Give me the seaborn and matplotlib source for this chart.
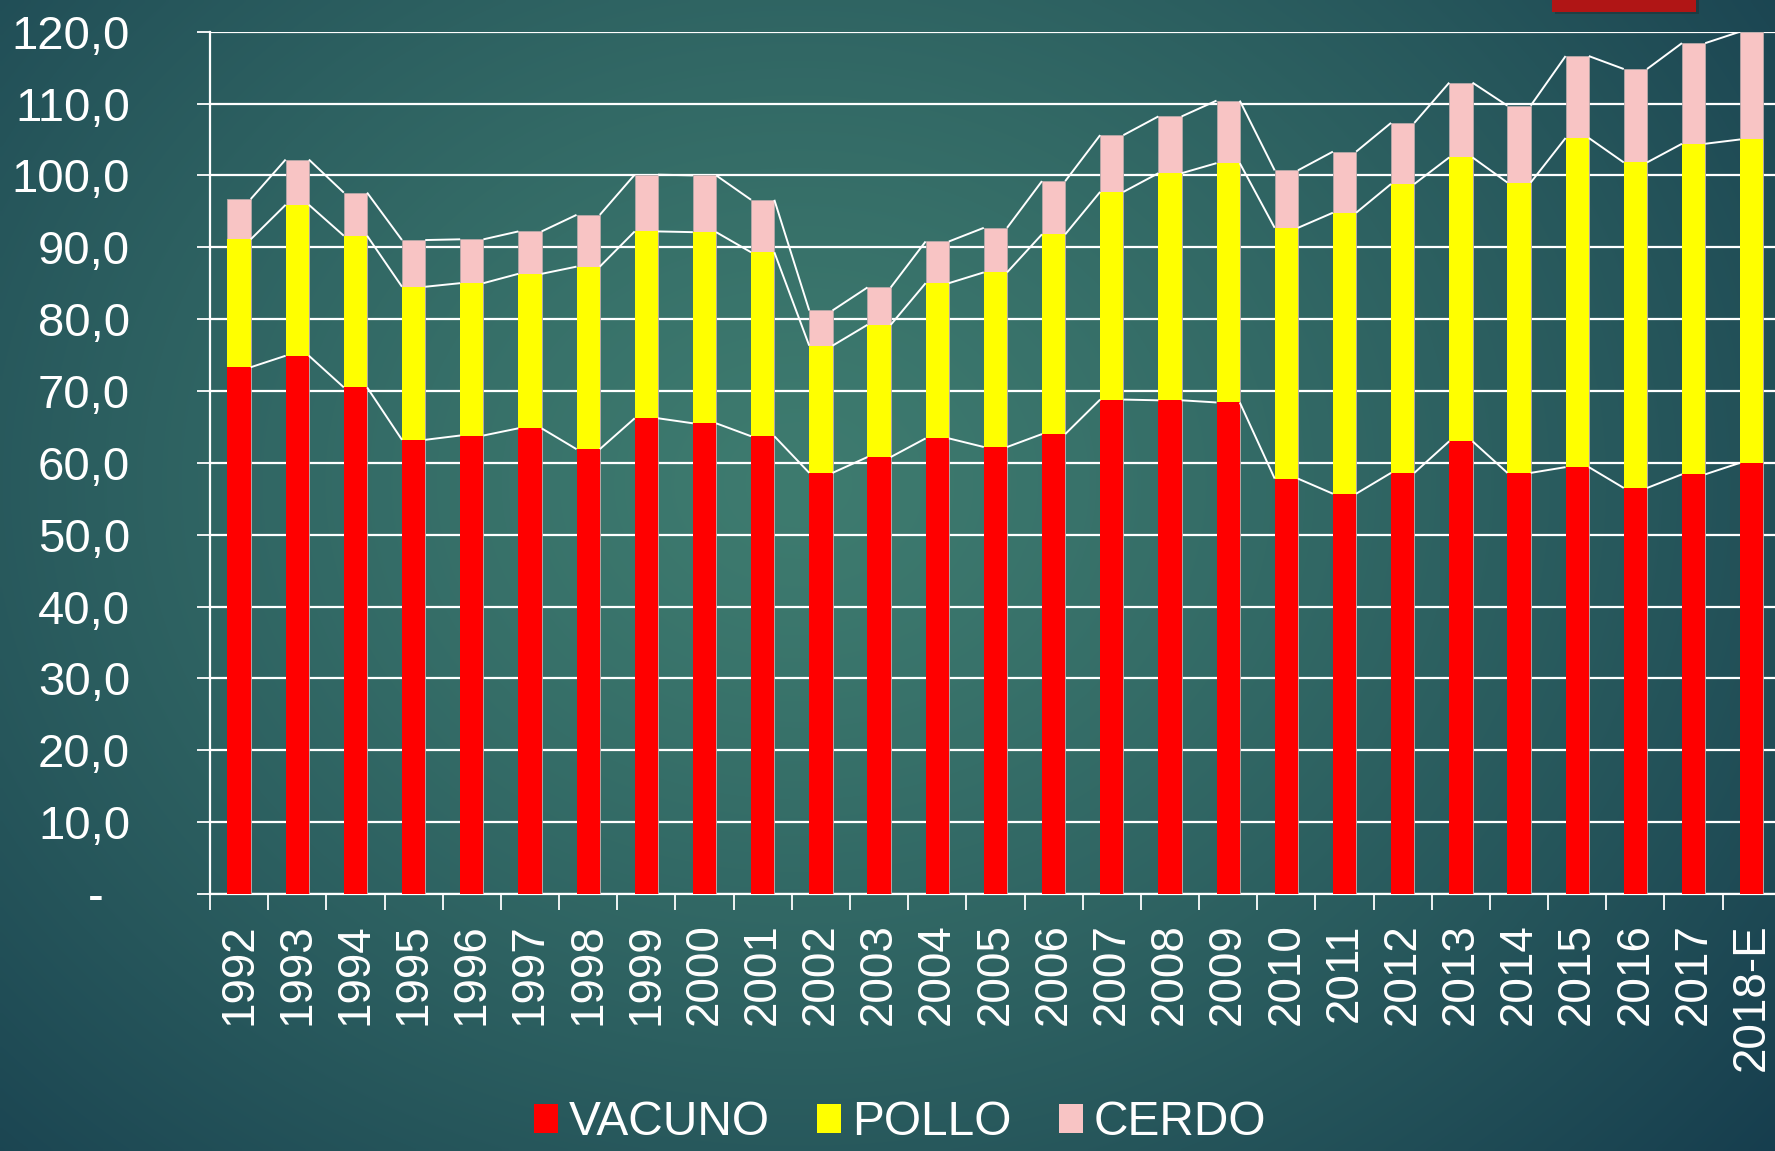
"""Consumo de carne por tipo (VACUNO / POLLO / CERDO), 1992-2018E."""

import matplotlib
matplotlib.use("Agg")
import matplotlib.pyplot as plt
import matplotlib.ticker as mticker
from matplotlib.patches import Patch, Rectangle
import numpy as np
import seaborn as sns

# ── Data (kg/hab/año) ─────────────────────────────────────────────────────────
years = ["1992", "1993", "1994", "1995", "1996", "1997", "1998", "1999", "2000",
         "2001", "2002", "2003", "2004", "2005", "2006", "2007", "2008", "2009",
         "2010", "2011", "2012", "2013", "2014", "2015", "2016", "2017", "2018-E"]
vacuno = [73.3, 74.9, 70.5, 63.2, 63.8, 64.8, 61.9, 66.2, 65.5,
          63.7, 58.6, 60.8, 63.4, 62.2, 64.0, 68.8, 68.7, 68.4,
          57.8, 55.7, 58.6, 63.0, 58.6, 59.4, 56.5, 58.4, 60.0]
pollo = [17.8, 21.0, 21.1, 21.3, 21.2, 21.5, 25.4, 26.0, 26.6,
         25.6, 17.7, 18.4, 21.6, 24.3, 27.8, 28.9, 31.6, 33.3,
         34.9, 39.1, 40.2, 39.5, 40.4, 45.8, 45.3, 46.0, 45.0]
cerdo = [5.6, 6.3, 6.0, 6.5, 6.1, 5.9, 7.2, 7.9, 7.9,
         7.3, 4.9, 5.2, 5.8, 6.2, 7.4, 7.9, 7.9, 8.7,
         8.0, 8.5, 8.5, 10.4, 10.7, 11.4, 13.0, 14.0, 15.0]
series_names = ["VACUNO", "POLLO", "CERDO"]
series_colors = ["#ff0000", "#ffff00", "#f8c4c4"]
y_ticks = list(range(0, 121, 10))

# ── Style ─────────────────────────────────────────────────────────────────────
sns.set_theme(style="white")
plt.rcParams["font.family"] = ["Liberation Sans", "DejaVu Sans"]
WHITE = "white"
BAR_W = 0.4

fig = plt.figure(figsize=(17.75, 11.51), dpi=100)

# background: soft teal radial gradient
bg = fig.add_axes([0, 0, 1, 1], zorder=-10)
gx, gy = np.meshgrid(np.linspace(0, 1, 400), np.linspace(0, 1, 260))
r = np.sqrt(((gx - 0.45) / 0.75) ** 2 + ((gy - 0.42) / 0.95) ** 2)
t = np.clip(r, 0, 1)[..., None] ** 1.3
inner = np.array([62, 123, 111]) / 255
outer = np.array([20, 58, 76]) / 255
bg.imshow(inner * (1 - t) + outer * t, aspect="auto", extent=[0, 1, 0, 1],
          origin="upper", interpolation="bilinear")
bg.set_axis_off()
# red title tab at the top right
fig.add_artist(Rectangle((1555 / 1775, 1 - 14 / 1151), 144 / 1775, 14 / 1151,
                         transform=fig.transFigure, facecolor="#202020",
                         alpha=0.35, linewidth=0, zorder=1))
fig.add_artist(Rectangle((1552 / 1775, 1 - 12 / 1151), 144 / 1775, 12 / 1151,
                         transform=fig.transFigure, facecolor="#b01515",
                         linewidth=0, zorder=2))

ax = fig.add_axes([0.1183, 0.2233, 0.885, 0.7492])
ax.set_facecolor("none")

vac = np.array(vacuno)
pol = vac + np.array(pollo)
tot = pol + np.array(cerdo)

# stacked bars drawn as overlapping cumulative totals
for level, color, ec in [(tot, series_colors[2], "#b8a8a8"),
                         (pol, series_colors[1], "none"),
                         (vac, series_colors[0], "none")]:
    sns.barplot(x=years, y=level, color=color, width=BAR_W, saturation=1,
                errorbar=None, edgecolor=ec, linewidth=0.6, ax=ax, zorder=3)

# series lines joining the top of each segment
x = np.arange(len(years))
for level in (vac, pol, tot):
    for i in range(len(years) - 1):
        ax.plot([x[i] + BAR_W / 2, x[i + 1] - BAR_W / 2], [level[i], level[i + 1]],
                color=WHITE, linewidth=1.4, zorder=4, solid_capstyle="butt")

# axes
ax.set_xlim(-0.5, len(years) - 0.5)
ax.set_ylim(0, 120)
ax.set_yticks(y_ticks)
ax.yaxis.set_major_formatter(mticker.FuncFormatter(
    lambda v, _: "-  " if v == 0 else f"{v:.1f}".replace(".", ",")))
ax.grid(axis="y", color=WHITE, linewidth=1.6, zorder=0)
ax.set_axisbelow(True)
ax.tick_params(axis="y", colors=WHITE, labelsize=34, length=9.5, width=1.3,
               pad=48, direction="out", left=True)
ax.set_xticks(x)
ax.set_xticklabels(years, rotation=90)
ax.set_xticks(np.arange(len(years) + 1) - 0.5, minor=True)
ax.tick_params(axis="x", which="major", colors=WHITE, labelsize=33, length=0, pad=21)
ax.tick_params(axis="x", which="minor", colors=WHITE, length=11.5, width=1.3,
               bottom=True, direction="out")
ax.set_xlabel("")
ax.set_ylabel("")
for side in ("top", "right"):
    ax.spines[side].set_visible(False)
for side in ("left", "bottom"):
    ax.spines[side].set_visible(True)
    ax.spines[side].set_color(WHITE)
    ax.spines[side].set_linewidth(1.6)

handles = [Patch(facecolor=c, edgecolor="none") for c in series_colors]
fig.legend(handles, series_names, loc="lower center", bbox_to_anchor=(0.507, -0.016),
           ncol=3, frameon=False, fontsize=34.5, labelcolor=WHITE,
           handlelength=0.5, handleheight=0.55, handletextpad=0.22,
           columnspacing=1.0, borderpad=0)

fig.savefig("out.png", dpi=100)
